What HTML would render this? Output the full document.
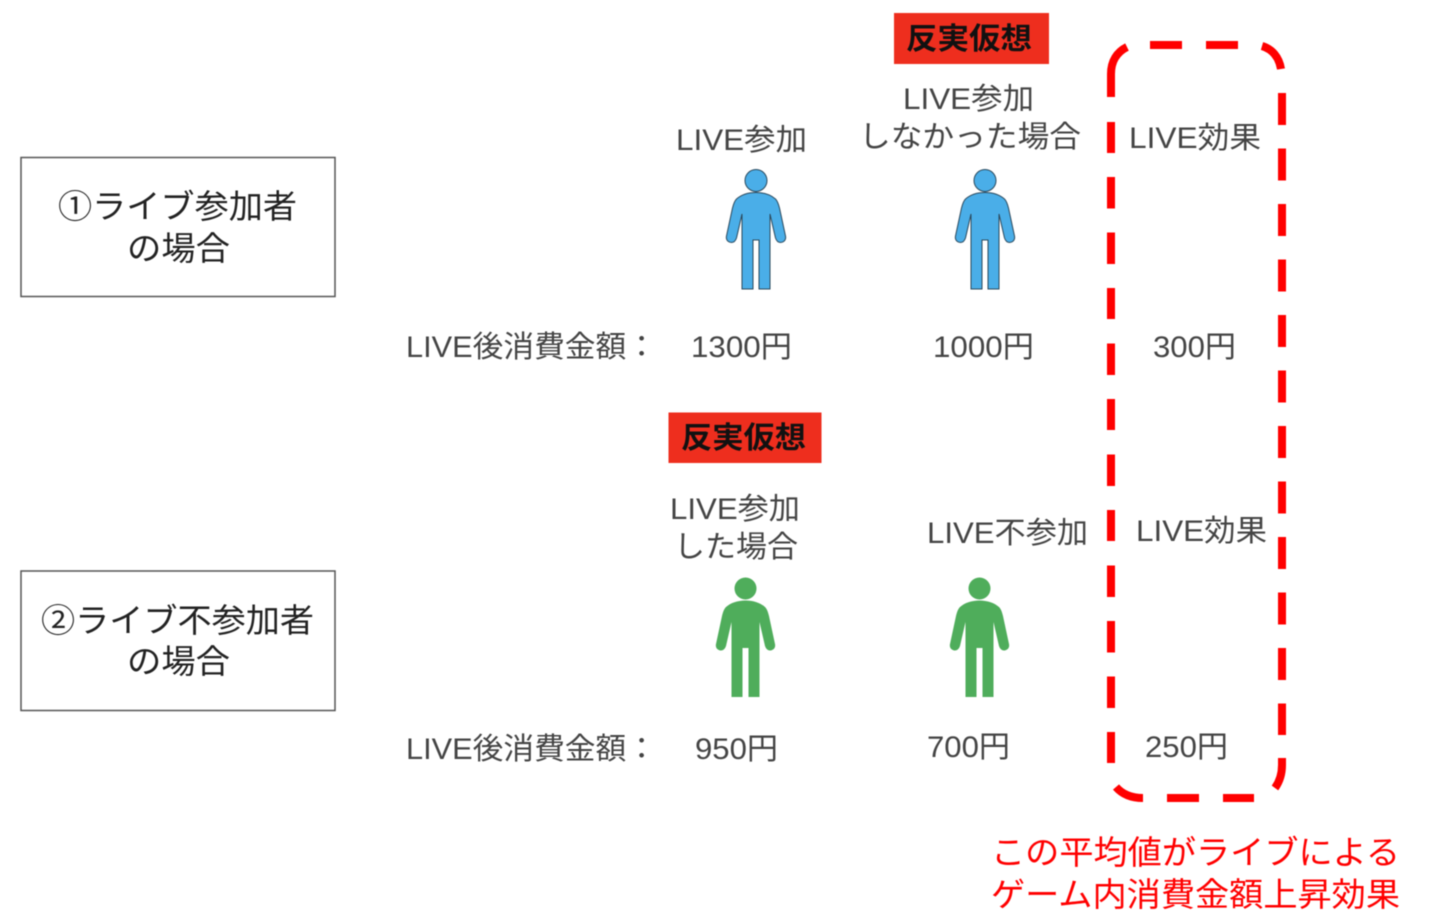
<!DOCTYPE html>
<html lang="ja"><head><meta charset="utf-8"><style>
html,body{margin:0;padding:0;background:#fff;width:1440px;height:923px;overflow:hidden}
svg{display:block;position:absolute;left:0;top:0}
text{font-family:"Liberation Sans","Noto Sans CJK JP",sans-serif;}
.g{fill:#444;font-size:30px}
.k{fill:#222;font-size:33px}
.b{fill:#111;font-size:30px;font-weight:bold}
.r{fill:#f00;font-size:33px}
</style></head><body>
<svg width="1440" height="923" viewBox="0 0 1440 923" xmlns="http://www.w3.org/2000/svg">
<defs>
<g id="p">
<circle cx="0" cy="180.500" r="11"/>
<path d="M0 192.500C8 192.500 15 195 19.500 199C21.500 201 22.500 204 23.500 208L29.500 236C30.500 241 26.500 242.500 24.500 242.500C22.500 242.500 20.500 241 19.500 238L14 214V289H3V240H-3V289H-14V214L-19.500 238C-20.500 241 -22.500 242.500 -24.500 242.500C-26.500 242.500 -30.500 241 -29.500 236L-23.500 208C-22.500 204 -21.500 201 -19.500 199C-15 195 -8 192.500 0 192.500Z"/>
</g>
</defs>
<g style="filter:blur(.45px)">
<rect x="21" y="157.500" width="314" height="139" fill="#fff" stroke="#555" stroke-width="1.500"/>
<rect x="21" y="571" width="314" height="139.500" fill="#fff" stroke="#555" stroke-width="1.500"/>
<text class="k" x="58" y="218" textLength="239" lengthAdjust="spacingAndGlyphs">①ライブ参加者</text>
<text class="k" x="127" y="260" textLength="103" lengthAdjust="spacingAndGlyphs">の場合</text>
<text class="k" x="41" y="632" textLength="273" lengthAdjust="spacingAndGlyphs">②ライブ不参加者</text>
<text class="k" x="127" y="673" textLength="103" lengthAdjust="spacingAndGlyphs">の場合</text>

<rect x="894" y="13" width="155" height="51" fill="#ee2e1e"/>
<rect x="668.500" y="412.500" width="153" height="50.500" fill="#ee2e1e"/>
<text class="b" x="906" y="49" textLength="126" lengthAdjust="spacingAndGlyphs">反実仮想</text>
<text class="b" x="681" y="448" textLength="125" lengthAdjust="spacingAndGlyphs">反実仮想</text>

<text class="g" x="676" y="150" textLength="131" lengthAdjust="spacingAndGlyphs">LIVE参加</text>
<text class="g" x="903" y="109" textLength="131" lengthAdjust="spacingAndGlyphs">LIVE参加</text>
<text class="g" x="859" y="147" textLength="222" lengthAdjust="spacingAndGlyphs">しなかった場合</text>
<text class="g" x="1129" y="148" textLength="132" lengthAdjust="spacingAndGlyphs">LIVE効果</text>
<text class="g" x="670" y="519" textLength="130" lengthAdjust="spacingAndGlyphs">LIVE参加</text>
<text class="g" x="674" y="557" textLength="124" lengthAdjust="spacingAndGlyphs">した場合</text>
<text class="g" x="927" y="543" textLength="161" lengthAdjust="spacingAndGlyphs">LIVE不参加</text>
<text class="g" x="1136" y="541" textLength="131" lengthAdjust="spacingAndGlyphs">LIVE効果</text>

<text class="g" x="406" y="357" textLength="251" lengthAdjust="spacingAndGlyphs">LIVE後消費金額：</text>
<text class="g" x="406" y="759" textLength="251" lengthAdjust="spacingAndGlyphs">LIVE後消費金額：</text>
<text class="g" x="691" y="357" textLength="101" lengthAdjust="spacingAndGlyphs">1300円</text>
<text class="g" x="933" y="357" textLength="101" lengthAdjust="spacingAndGlyphs">1000円</text>
<text class="g" x="1153" y="357" textLength="83" lengthAdjust="spacingAndGlyphs">300円</text>
<text class="g" x="695" y="759" textLength="83" lengthAdjust="spacingAndGlyphs">950円</text>
<text class="g" x="927" y="757" textLength="83" lengthAdjust="spacingAndGlyphs">700円</text>
<text class="g" x="1145" y="757" textLength="83" lengthAdjust="spacingAndGlyphs">250円</text>

<g fill="#4aaee8" stroke="#2b4a5e" stroke-width="1">
<use href="#p" transform="translate(756,0)"/>
<use href="#p" transform="translate(985,0)"/>
</g>
<g fill="#4fad5b">
<use href="#p" transform="translate(745.500,408)"/>
<use href="#p" transform="translate(979.500,408)"/>
</g>

<g fill="none" stroke="#f00" stroke-width="8">
<path d="M1150 45H1182M1206 45H1238"/>
<path d="M1262 46C1272 49 1279 57 1281 69"/>
<path d="M1282 93V125M1282 148.500V180.500M1282 204V236M1282 259.500V291.500M1282 315V347M1282 370.500V402.500M1282 426V458M1282 481.500V513.500M1282 537V569M1282 592.500V624.500M1282 648V680M1282 703.500V735"/>
<path d="M1282 758V765C1282 773 1280 781 1275 788"/>
<path d="M1254 798H1223M1199 798H1167M1143 798C1131 798 1122 794 1116 787"/>
<path d="M1111 763V732M1111 708V676.500M1111 652.500V621M1111 597V565.500M1111 541V510M1111 486V454.500M1111 430V399M1111 375V343.500M1111 319V288M1111 264V232.500M1111 208.500V177M1111 153V122M1111 97V74C1111 61 1117 52 1127 47"/>
</g>

<text class="r" x="991" y="864" textLength="409" lengthAdjust="spacingAndGlyphs">この平均値がライブによる</text>
<text class="r" x="991" y="906" textLength="409" lengthAdjust="spacingAndGlyphs">ゲーム内消費金額上昇効果</text>
</g>
</svg>
</body></html>
